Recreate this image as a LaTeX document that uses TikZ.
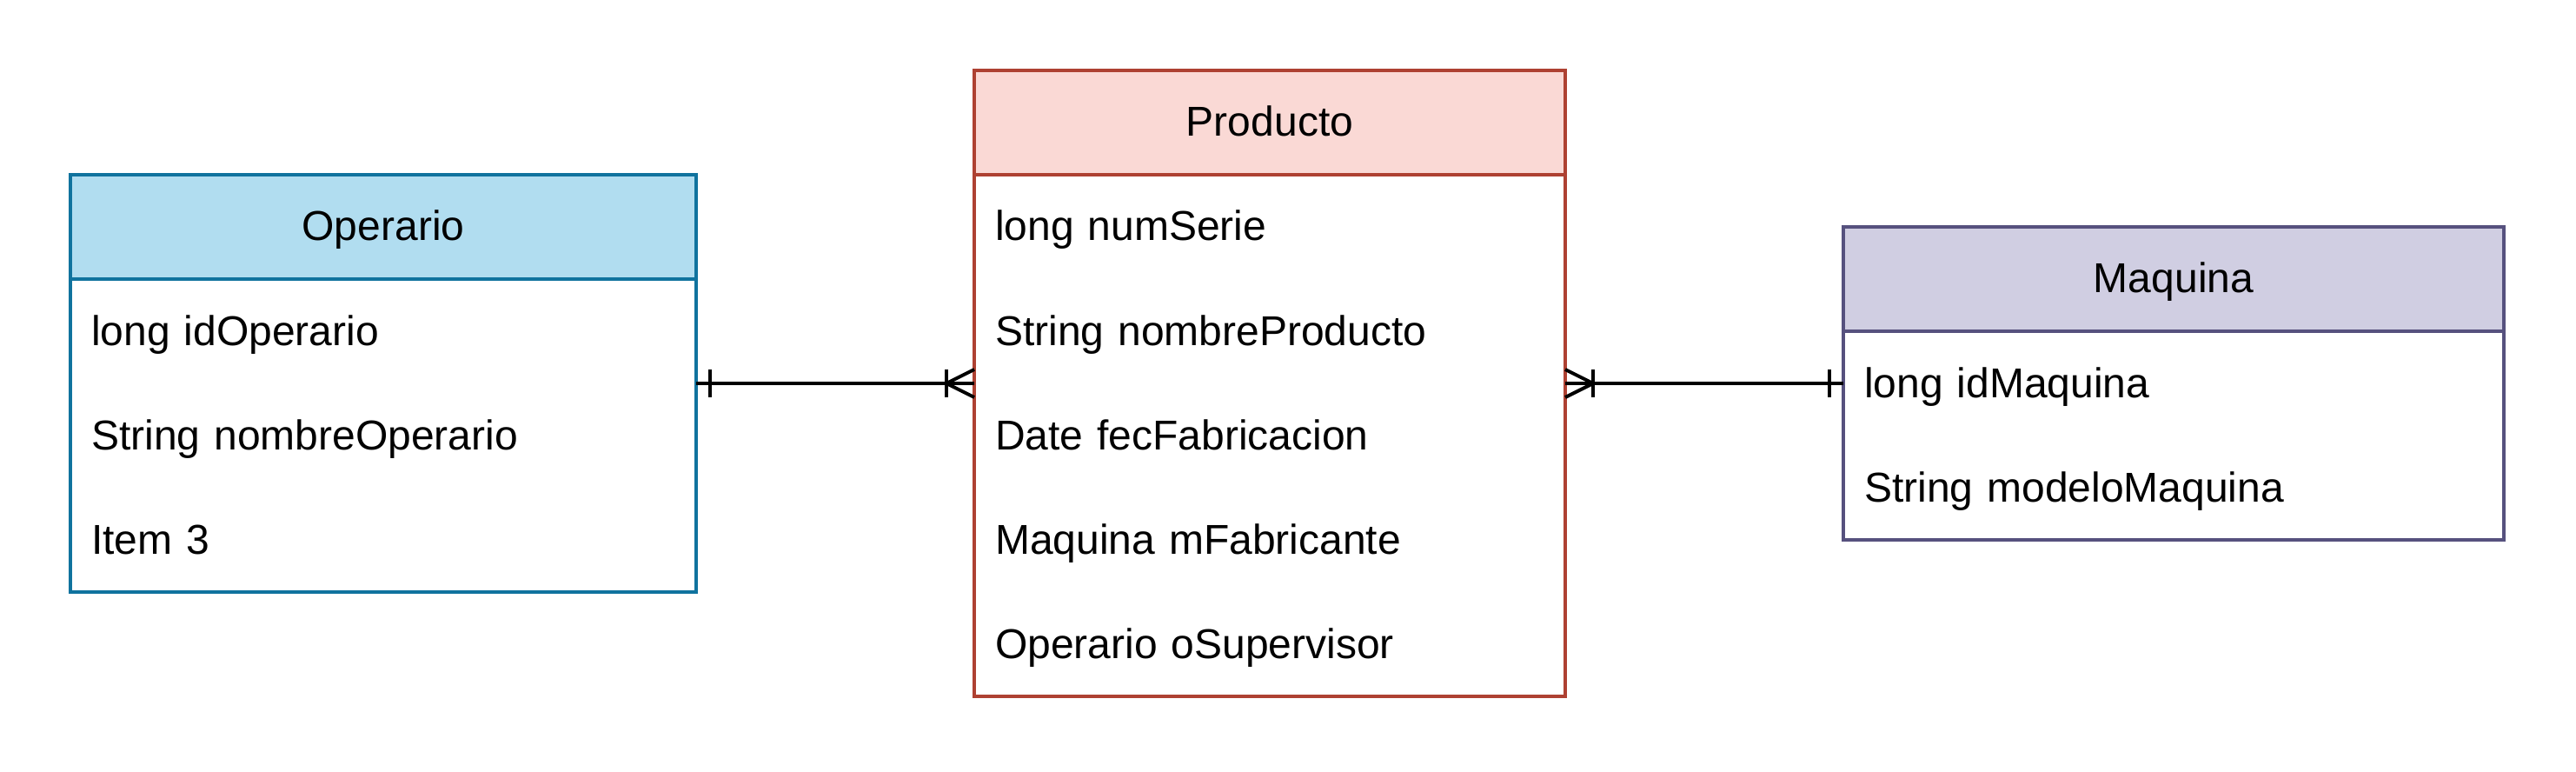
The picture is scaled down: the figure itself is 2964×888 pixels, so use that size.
\documentclass[tikz,border=0pt]{standalone}
\usepackage{fontspec}
\setmainfont{Liberation Sans}
\usetikzlibrary{positioning}
\definecolor{opfill}{HTML}{B1DDF0}
\definecolor{opline}{HTML}{10739E}
\definecolor{prfill}{HTML}{FAD9D5}
\definecolor{prline}{HTML}{AE4132}
\definecolor{mafill}{HTML}{D0CEE2}
\definecolor{maline}{HTML}{56517E}
\begin{document}
\begin{tikzpicture}[x=0.25pt,y=-0.25pt,
		every node/.style={font=\fontsize{12}{14}\selectfont, text height=8pt, text depth=0pt, inner sep=0pt, outer sep=0pt},
		titulo/.style={draw, line width=1pt, minimum height=30pt, anchor=north west},
		campo/.style={minimum height=30pt, text width=#1, align=left, inner xsep=6pt},
		marco/.style={line width=1pt},
		rel/.style={line width=1pt, black}]
	\useasboundingbox (0,0) rectangle (2964,888);
	% Entidad Operario
	\node[titulo, fill=opfill, draw=opline, minimum width=180pt] (oper) at (81,201) {Operario};
	\node[campo=168pt, below=0pt of oper] (op1) {long idOperario};
	\node[campo=168pt, below=0pt of op1] (op2) {String nombreOperario};
	\node[campo=168pt, below=0pt of op2] (op3) {Item 3};
	\draw[marco, opline] (oper.south west) rectangle (op3.south east);
	% Entidad Producto
	\node[titulo, fill=prfill, draw=prline, minimum width=170pt] (prod) at (1121,81) {Producto};
	\node[campo=158pt, below=0pt of prod] (pr1) {long numSerie};
	\node[campo=158pt, below=0pt of pr1] (pr2) {String nombreProducto};
	\node[campo=158pt, below=0pt of pr2] (pr3) {Date fecFabricacion};
	\node[campo=158pt, below=0pt of pr3] (pr4) {Maquina mFabricante};
	\node[campo=158pt, below=0pt of pr4] (pr5) {Operario oSupervisor};
	\draw[marco, prline] (prod.south west) rectangle (pr5.south east);
	% Entidad Maquina
	\node[titulo, fill=mafill, draw=maline, minimum width=190pt] (maq) at (2121,261) {Maquina};
	\node[campo=178pt, below=0pt of maq] (ma1) {long idMaquina};
	\node[campo=178pt, below=0pt of ma1] (ma2) {String modeloMaquina};
	\draw[marco, maline] (maq.south west) rectangle (ma2.south east);
	% Operario -- Producto (uno a muchos)
	\draw[rel] (op1.south east) -- (pr2.south west);
	\draw[rel] ([xshift=4pt,yshift=4pt]op1.south east) -- ([xshift=4pt,yshift=-4pt]op1.south east);
	\draw[rel] ([xshift=-8pt,yshift=4pt]pr2.south west) -- ([xshift=-8pt,yshift=-4pt]pr2.south west);
	\draw[rel] ([yshift=4pt]pr2.south west) -- ([xshift=-8pt]pr2.south west) -- ([yshift=-4pt]pr2.south west);
	% Producto -- Maquina (muchos a uno)
	\draw[rel] (pr2.south east) -- (ma1.west);
	\draw[rel] ([xshift=8pt,yshift=4pt]pr2.south east) -- ([xshift=8pt,yshift=-4pt]pr2.south east);
	\draw[rel] ([yshift=4pt]pr2.south east) -- ([xshift=8pt]pr2.south east) -- ([yshift=-4pt]pr2.south east);
	\draw[rel] ([xshift=-4pt,yshift=4pt]ma1.west) -- ([xshift=-4pt,yshift=-4pt]ma1.west);
\end{tikzpicture}
\end{document}
